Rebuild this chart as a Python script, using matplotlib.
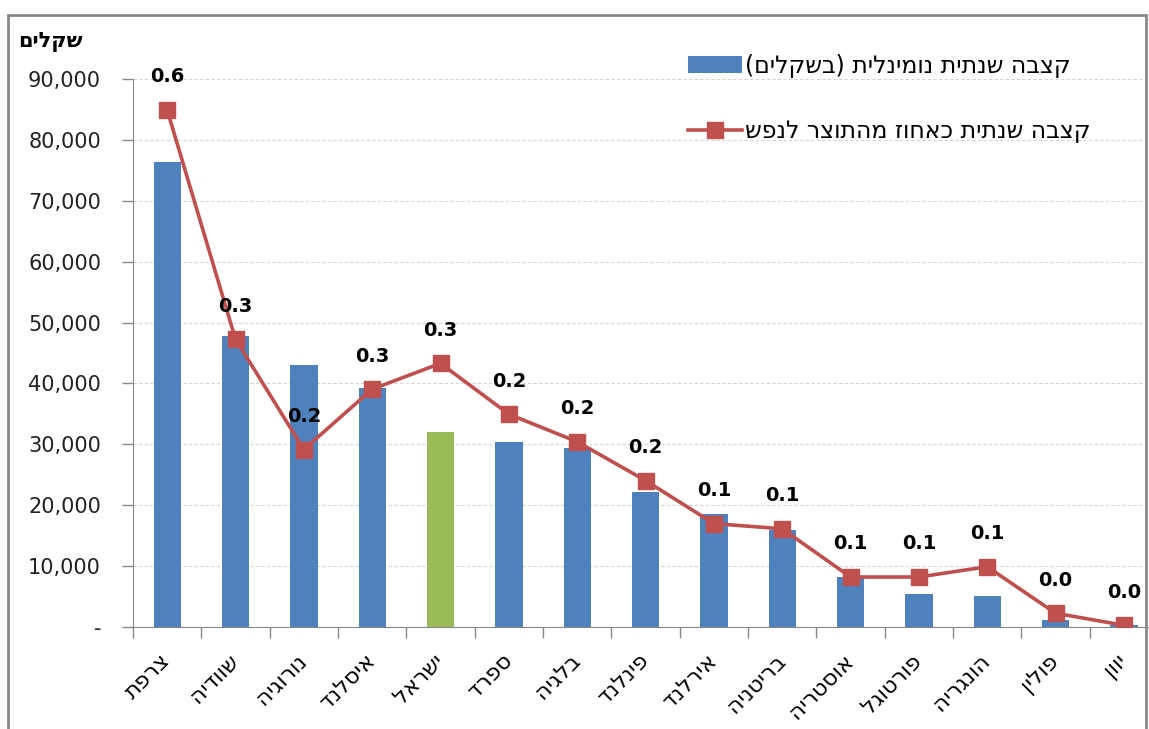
import numpy as np
import matplotlib
matplotlib.use('Agg')
import matplotlib.pyplot as plt
from matplotlib.ticker import FuncFormatter, FixedLocator
from matplotlib.patches import Rectangle

plt.rcParams['font.family'] = ['DejaVu Sans']

# נתונים (נקראו מהתרשים)
countries = ['צרפת', 'שוודיה', 'נורוגיה', 'איסלנד', 'ישראל', 'ספרד', 'בלגיה', 'פינלנד',
             'אירלנד', 'בריטניה', 'אוסטריה', 'פורטוגל', 'הונגריה', 'פולין', 'יוון']
pension_nis = [76400, 47800, 43000, 39300, 32000, 30400, 29400, 22200,
               18600, 15900, 8200, 5400, 5100, 1100, 300]
pension_pct_gdp = [0.600, 0.334, 0.206, 0.276, 0.306, 0.247, 0.215, 0.170,
                   0.120, 0.114, 0.058, 0.058, 0.070, 0.016, 0.002]
highlight = 'ישראל'

bar_label = 'קצבה שנתית נומינלית (בשקלים)'
line_label = 'קצבה שנתית כאחוז מהתוצר לנפש'
y_title = 'שקלים'


def rtl(s):
    # matplotlib לא מטפל בכיווניות - הופכים את הסדר ידנית
    swap = {'(': ')', ')': '('}
    return ''.join(swap.get(c, c) for c in reversed(s))


blue = '#4F81BD'
green = '#9BBB59'
red = '#C0504D'

fig = plt.figure(figsize=(11.49, 7.29), dpi=100)
ax = fig.add_axes([133 / 1149, 102 / 729, 1025 / 1149, 548 / 729])

x = np.arange(len(countries))
colors = [green if c == highlight else blue for c in countries]
bars = ax.bar(x, pension_nis, width=0.4, color=colors, zorder=2)

ax.set_xlim(-0.5, len(countries) - 0.5)
ax.set_ylim(0, 90000)
ax.set_yticks(np.arange(0, 90001, 10000))
ax.yaxis.set_major_formatter(FuncFormatter(lambda v, p: '-' if v == 0 else f'{v:,.0f}'))
ax.grid(axis='y', linestyle=(0, (3, 2)), color='#D4D4D4', linewidth=0.8, zorder=0)

ax.set_xticks(x)
ax.set_xticklabels([rtl(c) for c in countries], rotation=45, ha='right',
                   rotation_mode='anchor', va='center')
ax.tick_params(axis='x', which='major', length=0, pad=22, labelsize=16)
ax.xaxis.set_minor_locator(FixedLocator(np.arange(-0.5, len(countries), 1)))
ax.tick_params(axis='x', which='minor', length=8, color='#888888', width=1, direction='out')
ax.tick_params(axis='y', length=8, color='#888888', width=1, pad=15, labelsize=15,
               labelcolor='#222222')

for s in ['top', 'right']:
    ax.spines[s].set_visible(False)
ax.spines['left'].set_color('#888888')
ax.spines['bottom'].set_color('#888888')

# ציר משני לאחוזים
ax2 = ax.twinx()
ax2.set_ylim(0, 0.636)
ax2.axis('off')
line, = ax2.plot(x, pension_pct_gdp, color=red, linewidth=2.6, marker='s', markersize=11,
                 zorder=3)
for xi, v in zip(x, pension_pct_gdp):
    ax2.annotate(f'{v:.1f}', (xi, v), xytext=(0, 17), textcoords='offset points',
                 ha='center', va='bottom', fontsize=14, fontweight='bold', color='black')

leg = fig.legend(handles=[bars, line], labels=[rtl(bar_label), rtl(line_label)],
                 loc='upper left', bbox_to_anchor=(688 / 1149, 1 - 54 / 729),
                 frameon=False, fontsize=17, handlelength=2.3, handletextpad=0.1,
                 labelspacing=1.75, borderpad=0, borderaxespad=0)

fig.text(18 / 1149, 1 - 42 / 729, rtl(y_title), fontsize=15, fontweight='bold',
         ha='left', va='center')

# מסגרת חיצונית
fig.patches.append(Rectangle((8 / 1149, -0.1), 1138 / 1149, 1.1 - 15 / 729,
                             transform=fig.transFigure, fill=False,
                             edgecolor='#888888', linewidth=2))

fig.savefig('out.png', dpi=100)
